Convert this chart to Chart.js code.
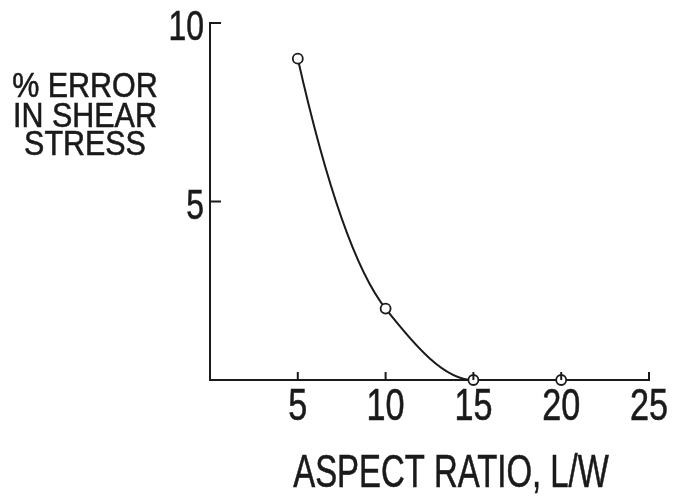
<!DOCTYPE html>
<html>
<head>
<meta charset="utf-8">
<script src="https://cdn.jsdelivr.net/npm/chart.js@4.4.1/dist/chart.umd.min.js"></script>
<style>
  html, body { margin: 0; background: #fff; }
  #wrap { width: 675px; height: 498px; }
</style>
</head>
<body>
<div id="wrap"><canvas id="chart"></canvas></div>
<script>
const aspectRatio = [5, 10, 15, 20];
const shearError = [9, 2, 0, 0];
const xTicks = [5, 10, 15, 20, 25];
const yTicks = [5, 10];
const yTitle = ["% ERROR", "IN SHEAR", "STRESS"];
const xTitle = "ASPECT RATIO, L/W";

const FONT = "'Liberation Sans', Arial, sans-serif";
const INK = "#1a1a1a";

// condensed lettering: Chart.js can't squeeze fonts, so scale the context
function squeezedText(ctx, text, x, y, size, squeeze, align) {
  ctx.save();
  ctx.font = size + "px " + FONT;
  ctx.textAlign = align;
  ctx.translate(x, y);
  ctx.scale(squeeze, 1);
  ctx.fillText(text, 0, 0);
  ctx.lineWidth = 0.6;
  ctx.strokeText(text, 0, 0);
  ctx.restore();
}

// smooth curve: harmonic-mean slopes (PCHIP style) so the drop stays convex
const pchipCurve = {
  id: "pchipCurve",
  beforeDatasetsDraw(chart) {
    const meta = chart.getDatasetMeta(0);
    const pts = meta.data;
    const n = pts.length;
    const d = [];
    for (let i = 0; i < n - 1; i++) d.push((pts[i + 1].y - pts[i].y) / (pts[i + 1].x - pts[i].x));
    const m = new Array(n).fill(0);
    for (let i = 1; i < n - 1; i++) {
      if (d[i - 1] * d[i] > 0) m[i] = 2 / (1 / d[i - 1] + 1 / d[i]);
    }
    m[0] = 2 * d[0] - m[1];
    if (m[0] * d[0] < 0) m[0] = 0;
    m[n - 1] = 2 * d[n - 2] - m[n - 2];
    if (m[n - 1] * d[n - 2] < 0) m[n - 1] = 0;
    for (let i = 0; i < n; i++) {
      const p = pts[i];
      const hPrev = i > 0 ? (p.x - pts[i - 1].x) / 3 : 0;
      const hNext = i < n - 1 ? (pts[i + 1].x - p.x) / 3 : 0;
      p.cp1x = p.x - hPrev; p.cp1y = p.y - m[i] * hPrev;
      p.cp2x = p.x + hNext; p.cp2y = p.y + m[i] * hNext;
    }
    meta.dataset._pointsUpdated = true;
    delete meta.dataset._path;
  }
};

// inward tick marks, tick labels and the two titles
const decorations = {
  id: "decorations",
  afterDraw(chart) {
    const { ctx, scales: { x, y } } = chart;
    ctx.save();
    ctx.strokeStyle = INK;
    ctx.fillStyle = INK;
    ctx.lineWidth = 2;
    xTicks.forEach(v => {
      const px = x.getPixelForValue(v);
      ctx.beginPath();
      ctx.moveTo(px, y.bottom);
      ctx.lineTo(px, y.bottom - 8);
      ctx.stroke();
      squeezedText(ctx, String(v), px, y.bottom + 40, 45, 0.76, "center");
    });
    yTicks.forEach(v => {
      const py = y.getPixelForValue(v);
      ctx.beginPath();
      ctx.moveTo(x.left, py);
      ctx.lineTo(x.left + 11, py);
      ctx.stroke();
      squeezedText(ctx, String(v), x.left - 6, py + 17, 42, 0.76, "right");
    });

    yTitle.forEach((line, i) => squeezedText(ctx, line, 85, [97, 127, 155][i], 35, 0.87, "center"));
    squeezedText(ctx, xTitle, 451, 487, 47, 0.70, "center");
    ctx.restore();
  }
};

new Chart(document.getElementById("chart"), {
  type: "scatter",
  data: {
    datasets: [{
      data: aspectRatio.map((v, i) => ({ x: v, y: shearError[i] })),
      showLine: true,
      tension: 0.4,
      borderColor: INK,
      borderWidth: 2,
      pointRadius: 5,
      pointBorderWidth: 1.8,
      pointBackgroundColor: "#fff",
      pointBorderColor: INK,
      clip: false
    }]
  },
  options: {
    responsive: true,
    maintainAspectRatio: false,
    animation: false,
    layout: { padding: { top: 23, right: 26, left: 0, bottom: 0 } },
    plugins: { legend: { display: false }, tooltip: { enabled: false } },
    scales: {
      x: {
        type: "linear",
        min: 0, max: 25,
        afterFit(scale) { scale.height = 118; },
        afterBuildTicks(scale) { scale.ticks = xTicks.map(v => ({ value: v })); },
        grid: { display: false, drawTicks: false },
        border: { display: true, color: INK, width: 2 },
        ticks: { display: false }
      },
      y: {
        min: 0, max: 10,
        afterFit(scale) { scale.width = 210; },
        afterBuildTicks(scale) { scale.ticks = yTicks.map(v => ({ value: v })); },
        grid: { display: false, drawTicks: false },
        border: { display: true, color: INK, width: 2 },
        ticks: { display: false }
      }
    }
  },
  plugins: [pchipCurve, decorations]
});
</script>
</body>
</html>
